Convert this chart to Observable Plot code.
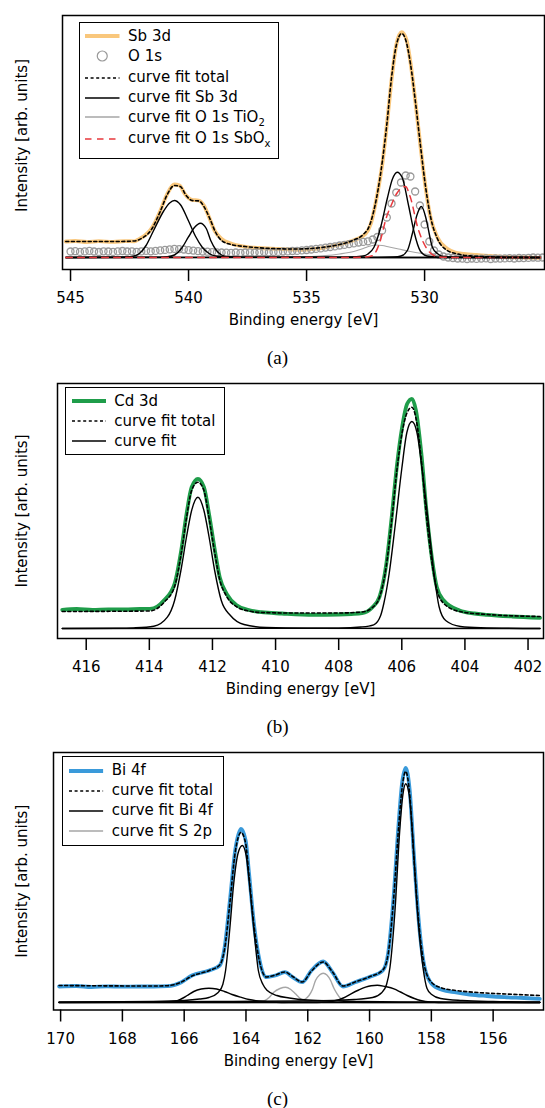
<!DOCTYPE html>
<html><head><meta charset="utf-8">
<script src="https://cdn.jsdelivr.net/npm/d3@7"></script>
<script src="https://cdn.jsdelivr.net/npm/@observablehq/plot@0.6"></script>
<style>
body{margin:0;background:#fff;}
#wrap{position:relative;width:545px;height:1108px;font-family:"DejaVu Sans",sans-serif;overflow:hidden;}
#wrap svg.plot{position:absolute;left:0;}
.cap{position:absolute;font-family:"Liberation Serif",serif;font-size:19px;transform:translate(-50%,-50%);line-height:1;}
.legend{position:absolute;border:1.5px solid #000;background:#fff;box-sizing:border-box;}
.lrow{position:absolute;font-size:15px;line-height:20px;height:20px;white-space:nowrap;color:#000;}
.lsw{position:absolute;overflow:visible;}
sub{font-size:10px;vertical-align:-4px;line-height:0;}
</style></head><body><div id="wrap"></div><script>
// ---------------- Panel (a): Sb 3d / O 1s ----------------
const ticksA = [545, 540, 535, 530];
const sb3dData = [[545.2,16],[544.8,16.5],[544.3,15.5],[543.8,16.3],[543.2,15.6],[542.7,16.4],[542.3,16.2],[542.08,18.7],[541.85,22],[541.63,27],[541.4,36],[541.19,47],[540.9,63.7],[540.6,73],[540.38,72],[540.16,63.7],[539.86,57.7],[539.57,57],[539.35,52],[539.13,40.3],[538.9,27],[538.6,18.7],[538.2,14],[537.66,11],[537.0,9.5],[536.19,8.7],[535.6,8],[535.15,7.7],[534.7,8.5],[534.27,9.7],[533.9,11.5],[533.53,13.7],[532.94,17.7],[532.5,23.7],[532.29,33],[532.0,63.7],[531.79,93.7],[531.58,137],[531.37,183.7],[531.19,213.7],[530.97,225.3],[530.76,217],[530.59,193.7],[530.38,153.7],[530.17,110.3],[529.96,70.3],[529.75,40.3],[529.46,20.3],[529.04,8.7],[528.7,5],[528.33,3.7],[527.8,2.5],[527.2,1.5],[526.5,0.5],[525.8,0],[525.1,-0.3]];
const o1sData = [[545.0,6],[544.8,6.3],[544.6,5.6],[544.4,6.1],[544.2,6.6],[544.0,6],[543.8,5.5],[543.6,6.2],[543.4,6],[543.2,5.6],[543.0,6.1],[542.8,6.5],[542.6,6],[542.4,6.2],[542.2,5.6],[542.0,6.1],[541.8,6.6],[541.6,6.2],[541.4,6.6],[541.2,7.1],[541.0,7.6],[540.8,8.1],[540.6,8.6],[540.4,8.4],[540.2,8],[540.0,7.4],[539.8,6.9],[539.6,6.4],[539.4,6],[539.2,5.8],[539.0,5.4],[538.8,5.1],[538.6,5],[538.4,4.9],[538.2,4.6],[538.0,5],[537.8,4.6],[537.6,5],[537.4,5.1],[537.2,4.9],[537.0,5.1],[536.8,5.5],[536.6,5.1],[536.4,5.5],[536.2,5.6],[536.0,6],[535.8,6.1],[535.6,6.5],[535.4,6.6],[535.2,7.1],[535.0,7.5],[534.8,8],[534.6,8.6],[534.4,9.1],[534.2,9.9],[534.0,10.5],[533.8,11.1],[533.6,12],[533.4,12.6],[533.2,13.4],[533.0,14.1],[532.8,15],[532.6,15.6],[532.4,16.2],[532.2,18],[532.0,20.5],[531.8,27],[531.6,40],[531.4,54],[531.2,65],[531.0,75],[530.8,82],[530.6,81],[530.4,66],[530.2,52],[530.0,33],[529.8,16],[529.6,7],[529.4,3],[529.2,1],[529.0,0],[528.8,-0.5],[528.6,-1],[528.4,-1.1],[528.2,-1.5],[528.0,-1],[527.8,-1.4],[527.6,-1.1],[527.4,-0.9],[527.2,-1.5],[527.0,-1],[526.8,-1.1],[526.6,-0.9],[526.4,-0.6],[526.2,-1],[526.0,-0.5],[525.8,-0.6],[525.6,-0.4],[525.4,0],[525.2,-0.2],[525.0,0]];
const fitTotalA = [[545.2,16],[544,16],[543,16],[542.3,16.5],[542.0,19],[541.6,27],[541.2,46],[540.9,63],[540.6,72],[540.35,71],[540.1,62],[539.85,57],[539.55,56.5],[539.35,51],[539.1,39],[538.85,25],[538.6,17],[538.2,13],[537.6,11],[536.5,9],[535.5,8.5],[534.8,9],[534.2,10.5],[533.6,13],[533.0,17.5],[532.6,23],[532.35,31],[532.1,52],[531.85,86],[531.6,133],[531.4,180],[531.2,212],[530.97,224],[530.78,216],[530.6,194],[530.38,154],[530.17,111],[529.96,71],[529.75,41],[529.46,19],[529.1,8],[528.6,3.5],[528,1.5],[527,0.5],[525.1,0]];
const fitSbA = [[545.2,0],[543.5,0.2],[542.6,0.6],[542.4,1],[542.08,4],[541.8,12],[541.48,27],[541.04,47],[540.8,54.5],[540.6,57],[540.35,53],[540.01,37],[539.7,21],[539.42,10.3],[539.13,4],[538.8,1.3],[538,0.2],[525.1,0]];
const fitSbB = [[545.2,0],[541.5,0.2],[540.9,0.8],[540.6,2.5],[540.3,9],[540.01,20.3],[539.75,30],[539.5,34.3],[539.25,29],[539.06,17],[538.85,8],[538.6,2.5],[538.3,0.7],[537.5,0.1],[525.1,0]];
const fitSbC = [[545.2,0],[534,0.2],[533,0.6],[532.6,1.5],[532.4,3.5],[532.15,10],[531.86,30.3],[531.58,59],[531.37,78],[531.16,85.3],[530.95,80],[530.67,51],[530.45,26],[530.17,6],[529.9,1.5],[529.4,0.3],[525.1,0]];
const fitSbD = [[545.2,0],[532,0.1],[531.3,0.5],[531,1.5],[530.73,7],[530.52,23.7],[530.33,42],[530.14,51],[529.95,40],[529.86,30.3],[529.67,10.3],[529.46,4],[529.2,1],[528.7,0.2],[525.1,0]];
const fitTiO2 = [[545.2,0],[536,0.2],[535,0.6],[534.2,1.8],[533.6,3.5],[533.0,6],[532.6,9],[532.3,11.5],[532.05,12.5],[531.8,12],[531.5,10.5],[531.1,8.5],[530.6,6],[530.1,4],[529.6,2.3],[529.1,1],[528.5,0.3],[527.5,0],[525.1,0]];
const fitSbOx = [[545.2,0],[533,0.1],[532.5,0.6],[532.2,2],[531.9,15],[531.62,40],[531.4,53],[531.18,64],[530.95,70],[530.81,71],[530.6,60],[530.29,30],[530.05,15],[529.85,7],[529.6,2],[529.3,0.3],[528.5,0],[525.1,0]];
const legendA = ["Sb 3d", "O 1s", "curve fit total", "curve fit Sb 3d", "curve fit O 1s TiO<sub>2</sub>", "curve fit O 1s SbO<sub>x</sub>"];

// ---------------- Panel (b): Cd 3d ----------------
const ticksB = [416, 414, 412, 410, 408, 406, 404, 402];
const cd3dData = [[416.76,18.7],[416.3,19.5],[415.8,18.5],[415.3,19.2],[414.8,19],[414.3,19.5],[413.98,19.7],[413.75,22],[413.54,28],[413.2,44.7],[412.99,78],[412.82,114.7],[412.66,141.3],[412.46,149.7],[412.27,141.3],[412.11,114.7],[411.94,81.3],[411.77,51.3],[411.55,34.7],[411.22,23],[410.85,18.5],[410.45,16.3],[409.8,15],[408.8,13.7],[408.0,14],[407.6,14.5],[407.26,15.3],[406.93,21.3],[406.71,31.3],[406.49,64.7],[406.32,111.3],[406.16,161.3],[405.99,201.3],[405.83,224.7],[405.68,229.7],[405.55,218],[405.38,174.7],[405.22,118],[405.05,71.3],[404.89,41.3],[404.67,28],[404.17,18],[403.7,15],[403.29,13.7],[402.5,12],[401.62,10.7]];
const fitTotalB = [[416.76,17],[414,17.5],[413.75,20],[413.54,26],[413.2,42],[412.99,75],[412.82,111],[412.66,138],[412.46,146.3],[412.27,138],[412.11,111],[411.94,78],[411.77,49],[411.55,32],[411.22,21.5],[410.85,17.5],[410.45,16],[409.5,15.5],[408,15.5],[407.26,16.5],[406.93,21],[406.71,31],[406.49,63],[406.32,108],[406.16,157],[405.99,196],[405.83,216],[405.68,221.3],[405.55,210],[405.38,168],[405.22,113],[405.05,67],[404.89,39],[404.67,25],[404.17,17],[403.29,14],[401.62,12]];
const fitCd1 = [[416.76,0],[415,0.2],[414.5,0.6],[413.86,2.3],[413.43,11.3],[413.2,28],[413.0,58],[412.82,92],[412.66,118],[412.46,131.3],[412.27,118],[412.11,92],[411.93,58],[411.72,28],[411.43,13],[411.0,4],[410.3,1],[409,0.3],[401.62,0]];
const fitCd2 = [[416.76,0],[409,0.2],[408,0.4],[407.3,1.5],[406.89,3.7],[406.67,13],[406.57,25],[406.4,55],[406.21,103],[406.0,160],[405.84,196],[405.68,207],[405.52,196],[405.36,160],[405.15,103],[404.98,55],[404.82,22],[404.61,8],[404.14,2],[403.5,0.8],[401.62,0]];
const legendB = ["Cd 3d", "curve fit total", "curve fit"];

// ---------------- Panel (c): Bi 4f / S 2p ----------------
const ticksC = [170, 168, 166, 164, 162, 160, 158, 156];
const bi4fData = [[170.05,16],[169.5,16.5],[169,15.5],[168.5,16.2],[168,15.8],[167.5,16],[167,16],[166.54,16.3],[166.09,20.3],[165.75,27],[165.19,32],[164.85,37],[164.69,55.3],[164.52,102],[164.35,152],[164.16,173.7],[164.01,162],[163.9,128.7],[163.73,75.3],[163.56,42],[163.34,25.3],[163.05,27],[162.74,30.3],[162.49,25.3],[162.18,20.3],[161.88,32],[161.5,41],[161.2,30.3],[160.86,16],[160.47,20.3],[160.02,25.3],[159.57,32],[159.4,48.7],[159.23,102],[159.06,178.7],[158.95,218.7],[158.83,234.7],[158.7,212],[158.56,145.3],[158.39,75.3],[158.22,35.3],[157.99,18.7],[157.66,12.7],[157.2,10],[156.76,8],[156.2,6.5],[155.63,5.3],[155,4.5],[154.49,3.7]];
const fitTotalC = [[170.05,17],[167,16.5],[166.54,16.8],[166.09,20.5],[165.75,26.5],[165.19,32],[164.85,37.5],[164.69,54],[164.52,100],[164.35,150],[164.16,170],[164.01,159],[163.9,126],[163.73,74],[163.56,41],[163.34,25.5],[163.05,27.5],[162.74,30.5],[162.49,26],[162.18,20.5],[161.88,31.5],[161.5,40.5],[161.2,30.5],[160.86,16.5],[160.47,20.5],[160.02,25.5],[159.57,32.5],[159.4,48],[159.23,100],[159.06,175],[158.95,214],[158.83,231],[158.7,208],[158.56,142],[158.39,74],[158.22,36],[157.99,20],[157.66,14.5],[157.2,12],[156.5,10],[155.6,8.5],[154.49,7]];
const fitBi1 = [[170.05,0.3],[167,1],[166,2],[165.5,3.5],[165.2,5],[164.9,10],[164.75,18],[164.66,32],[164.52,75],[164.4,118],[164.25,150],[164.12,157],[164.0,148],[163.86,110],[163.72,65],[163.6,32],[163.45,18],[163.31,12],[163.0,7],[162.6,4.5],[162,2.5],[161,1.5],[159,0.6],[154.49,0]];
const fitBi2 = [[170.05,0.3],[165,1],[162,1.5],[160.5,3],[159.9,5],[159.6,10],[159.45,18],[159.34,35],[159.17,95],[159.03,169],[158.92,208],[158.83,218.7],[158.72,208],[158.61,169],[158.46,95],[158.27,35],[158.14,14],[157.99,8],[157.7,4],[157,2],[156,1],[154.49,0.5]];
const fitBi3 = [[170.05,0],[167,0.3],[166.33,1],[166.1,3.5],[165.9,7],[165.69,11],[165.45,13.5],[165.2,14.3],[164.95,13.5],[164.7,11],[164.45,8],[164.17,5.3],[163.9,3],[163.6,1.5],[163.2,0.5],[162.5,0],[154.49,0]];
const fitBi4 = [[170.05,0],[162,0],[161.4,0.5],[161.15,1.5],[160.85,4.5],[160.6,8.7],[160.35,12.5],[160.13,15.3],[159.95,16.8],[159.75,17.3],[159.5,16],[159.21,13.7],[159.0,10.5],[158.78,7],[158.55,4],[158.35,2],[158.03,0.5],[157.5,0],[154.49,0]];
const fitS1 = [[170.05,0],[164.2,0],[163.7,0.5],[163.42,1.5],[163.25,5],[163.1,10.3],[162.9,14],[162.72,15.3],[162.55,13],[162.4,8.7],[162.28,5],[162.18,2.7],[161.9,0.6],[161.5,0],[154.49,0]];
const fitS2 = [[170.05,0],[163,0],[162.5,0.5],[162.2,2],[162.08,3.5],[161.96,7],[161.85,13],[161.75,22],[161.62,27.5],[161.5,29.3],[161.38,27.5],[161.26,22],[161.15,14],[161.05,8.7],[160.95,4.5],[160.88,2.7],[160.6,0.6],[160.2,0],[154.49,0]];
const legendC = ["Bi 4f", "curve fit total", "curve fit Bi 4f", "curve fit S 2p"];

const xLabel = "Binding energy [eV]";
const yLabel = "Intensity [arb. units]";
const captions = ["(a)", "(b)", "(c)"];

// ---------------- styles ----------------
const orange = "#F9C77C", green = "#1F9D4A", blue = "#3A9ADA", grayC = "#999999", grayL = "#A6A6A6", red = "#E8383D";
const dotted = "3,2.6", dashed = "6.5,5.5";
const XY = {x: d => d[0], y: d => d[1], curve: "monotone-x"};
const black = (data) => Plot.line(data, {...XY, stroke: "#000", strokeWidth: 1.4});

const wrap = document.getElementById("wrap");

function makePanel(cfg) {
  const svg = Plot.plot({
    width: 545, height: cfg.height,
    marginTop: cfg.mt, marginLeft: cfg.ml, marginRight: cfg.mr, marginBottom: cfg.height - cfg.fb,
    style: {fontFamily: '"DejaVu Sans", sans-serif', fontSize: "15px", background: "transparent", color: "#000", overflow: "visible"},
    x: {domain: cfg.xd, axis: null},
    y: {domain: cfg.yd, axis: null},
    marks: [
      ...cfg.marks,
      Plot.frame({stroke: "#000", strokeWidth: 1.5}),
      Plot.axisX(cfg.ticks, {anchor: "bottom", tickSize: 12, tickPadding: 11, strokeWidth: 1.5, fontSize: 15, label: null, tickFormat: d => String(d)}),
      Plot.text([xLabel], {text: d => d, frameAnchor: "bottom", textAnchor: "middle", lineAnchor: "middle", dy: 51, fontSize: 15}),
      Plot.text([yLabel], {text: d => d, frameAnchor: "left", textAnchor: "middle", lineAnchor: "middle", rotate: -90, dx: 21.7 - cfg.ml, dy: cfg.ylDy || 0, fontSize: 15})
    ]
  });
  svg.classList.add("plot");
  svg.style.top = cfg.top + "px";
  wrap.appendChild(svg);
}

makePanel({
  top: 0, height: 335, mt: 15, fb: 269, ml: 62, mr: 1, xd: [545.34, 524.92], yd: [-12, 242], ticks: ticksA, ylDy: -7,
  marks: [
    Plot.line(sb3dData, {...XY, stroke: orange, strokeWidth: 3.8}),
    Plot.dot(o1sData, {x: d => d[0], y: d => d[1], r: 3.5, stroke: grayC, strokeWidth: 1.3, fill: "none"}),
    Plot.line(fitTiO2, {...XY, stroke: grayL, strokeWidth: 1.2}),
    black(fitSbA), black(fitSbB), black(fitSbC), black(fitSbD),
    Plot.line(fitSbOx, {...XY, stroke: red, strokeWidth: 1.5, strokeDasharray: dashed}),
    Plot.line(fitTotalA, {...XY, stroke: "#000", strokeWidth: 1.6, strokeDasharray: dotted})
  ]
});
makePanel({
  top: 370, height: 335, mt: 13, fb: 268, ml: 57, mr: 2, xd: [416.91, 401.51], yd: [-10, 245], ticks: ticksB,
  marks: [
    Plot.line(cd3dData, {...XY, stroke: green, strokeWidth: 3.8}),
    black(fitCd1), black(fitCd2),
    Plot.line(fitTotalB, {...XY, stroke: "#000", strokeWidth: 1.6, strokeDasharray: dotted})
  ]
});
makePanel({
  top: 740, height: 335, mt: 12, fb: 269.5, ml: 53, mr: 2, xd: [170.23, 154.37], yd: [-7.5, 250], ticks: ticksC,
  marks: [
    Plot.line(bi4fData, {...XY, stroke: blue, strokeWidth: 3.8}),
    Plot.line(fitS1, {...XY, stroke: grayL, strokeWidth: 1.4}),
    Plot.line(fitS2, {...XY, stroke: grayL, strokeWidth: 1.4}),
    black(fitBi1), black(fitBi2), black(fitBi3), black(fitBi4),
    Plot.line(fitTotalC, {...XY, stroke: "#000", strokeWidth: 1.6, strokeDasharray: dotted})
  ]
});

// ---------------- captions ----------------
[356.7, 726, 1098.3].forEach((y, i) => {
  const d = document.createElement("div");
  d.className = "cap"; d.textContent = captions[i];
  d.style.left = "277.5px"; d.style.top = y + "px";
  wrap.appendChild(d);
});

// ---------------- legends ----------------
function legend(box, lineX, textX, rows) {
  const bw = 1.5;
  const L = document.createElement("div");
  L.className = "legend";
  Object.assign(L.style, {left: box[0] + "px", top: box[1] + "px", width: (box[2] - box[0]) + "px", height: (box[3] - box[1]) + "px"});
  rows.forEach(r => {
    const ns = "http://www.w3.org/2000/svg";
    const s = document.createElementNS(ns, "svg");
    s.setAttribute("class", "lsw");
    s.setAttribute("width", lineX[1] - lineX[0]); s.setAttribute("height", 12);
    s.style.left = (lineX[0] - box[0] - bw) + "px"; s.style.top = (r.y - box[1] - bw - 6) + "px";
    if (r.kind === "circle") {
      const c = document.createElementNS(ns, "circle");
      c.setAttribute("cx", (lineX[1] - lineX[0]) / 2); c.setAttribute("cy", 6); c.setAttribute("r", 5);
      c.setAttribute("fill", "none"); c.setAttribute("stroke", grayC); c.setAttribute("stroke-width", 1.2);
      s.appendChild(c);
    } else {
      const l = document.createElementNS(ns, "line");
      l.setAttribute("x1", 0); l.setAttribute("x2", lineX[1] - lineX[0]); l.setAttribute("y1", 6); l.setAttribute("y2", 6);
      l.setAttribute("stroke", r.color); l.setAttribute("stroke-width", r.w);
      if (r.dash) l.setAttribute("stroke-dasharray", r.dash);
      s.appendChild(l);
    }
    L.appendChild(s);
    const t = document.createElement("div");
    t.className = "lrow"; t.innerHTML = r.label;
    t.style.left = (textX - box[0] - bw) + "px"; t.style.top = (r.y - box[1] - bw - 10.5) + "px";
    L.appendChild(t);
  });
  wrap.appendChild(L);
}
legend([78.5, 22, 279, 159], [85.5, 120], 128.6, [
  {y: 36.5, color: orange, w: 4, label: legendA[0]},
  {y: 56.5, kind: "circle", label: legendA[1]},
  {y: 78, color: "#000", w: 1.6, dash: dotted, label: legendA[2]},
  {y: 98, color: "#000", w: 1.6, label: legendA[3]},
  {y: 117.5, color: grayL, w: 1.5, label: legendA[4]},
  {y: 139, color: red, w: 1.6, dash: dashed, label: legendA[5]}
]);
legend([65, 387.3, 225, 455], [72, 106], 114.7, [
  {y: 401.7, color: green, w: 4, label: legendB[0]},
  {y: 421.7, color: "#000", w: 1.6, dash: dotted, label: legendB[1]},
  {y: 441.7, color: "#000", w: 1.6, label: legendB[2]}
]);
legend([62, 756, 224.2, 845.7], [69.5, 103.6], 112.3, [
  {y: 771, color: blue, w: 4, label: legendC[0]},
  {y: 791, color: "#000", w: 1.6, dash: dotted, label: legendC[1]},
  {y: 811, color: "#000", w: 1.6, label: legendC[2]},
  {y: 831.7, color: grayL, w: 1.5, label: legendC[3]}
]);
</script></body></html>
